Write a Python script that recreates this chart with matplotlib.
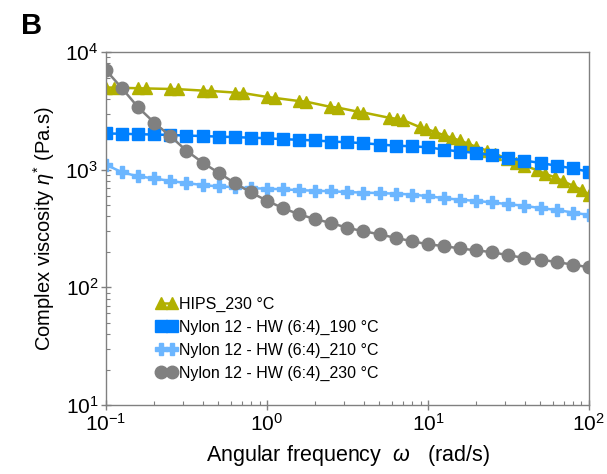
import math

import matplotlib
matplotlib.use("Agg")
import matplotlib.pyplot as plt
from matplotlib.ticker import LogLocator, FuncFormatter, NullFormatter

plt.rcParams['font.family'] = ['Liberation Sans', 'DejaVu Sans']
plt.rcParams['mathtext.fontset'] = 'custom'
plt.rcParams['mathtext.rm'] = 'Liberation Sans'
plt.rcParams['mathtext.it'] = 'Liberation Sans:italic'

# 10 points per decade, 0.1 -> 100 rad/s
freq = [0.1, 0.126, 0.158, 0.2, 0.251, 0.316, 0.398, 0.501, 0.631, 0.794,
        1.0, 1.26, 1.58, 2.0, 2.51, 3.16, 3.98, 5.01, 6.31, 7.94,
        10.0, 12.6, 15.8, 20.0, 25.1, 31.6, 39.8, 50.1, 63.1, 79.4, 100.0]

nylon_190 = [2030, 2020, 2000, 1990, 1970, 1950, 1930, 1910, 1890, 1870,
             1850, 1815, 1795, 1770, 1735, 1710, 1680, 1635, 1600, 1580,
             1550, 1480, 1425, 1390, 1320, 1250, 1195, 1140, 1080, 1025, 960]
nylon_210 = [1100, 950, 877, 843, 800, 770, 740, 720, 711, 695,
             690, 680, 670, 662, 655, 645, 638, 632, 625, 615,
             595, 573, 555, 543, 526, 509, 493, 471, 455, 432, 412]
nylon_230 = [7000, 4900, 3400, 2500, 1930, 1450, 1150, 940, 770, 640,
             545, 470, 418, 379, 352, 320, 300, 282, 263, 247,
             232, 224, 214, 206, 199, 187, 178, 172, 164, 156, 148]

hips_freq = [0.1, 0.112, 0.158, 0.178, 0.251, 0.282, 0.398, 0.447, 0.631, 0.708,
             1.0, 1.12, 1.58, 1.74, 2.45, 2.75, 3.63, 3.98, 5.75, 6.46, 7.0,
             8.91, 9.77, 11.0, 12.6, 14.1, 15.8, 17.8, 20.0, 23.4, 26.3,
             30.9, 35.5, 39.8, 47.9, 53.7, 61.7, 69.2, 79.4, 91.2, 100.0]
hips_230 = [4990, 4980, 4920, 4900, 4850, 4830, 4700, 4670, 4520, 4480,
            4150, 4070, 3830, 3790, 3430, 3370, 3120, 3060, 2760, 2700, 2640,
            2300, 2220, 2100, 1960, 1860, 1770, 1660, 1560, 1450, 1360,
            1240, 1150, 1080, 990, 920, 860, 800, 730, 670, 610]

fig = plt.figure(figsize=(6.07, 4.74), dpi=100)
ax = fig.add_axes([0.1746, 0.1456, 0.7955, 0.7447])

ax.plot(hips_freq, hips_230, color="#b1b000", marker="^", markersize=9,
        linewidth=1.8, label="HIPS_230 °C")
ax.plot(freq, nylon_190, color="#0080ff", marker="s", markersize=9,
        linewidth=1.8, label="Nylon 12 - HW (6:4)_190 °C")
ax.plot(freq, nylon_210, color="#6cb6ff", marker="P", markersize=9,
        linewidth=1.8, label="Nylon 12 - HW (6:4)_210 °C")
ax.plot(freq, nylon_230, color="#808080", marker="o", markersize=9,
        linewidth=1.8, label="Nylon 12 - HW (6:4)_230 °C")

ax.set_xscale("log"); ax.set_yscale("log")
ax.set_xlim(0.1, 100); ax.set_ylim(10, 1e4)

fmt = FuncFormatter(lambda v, p: r"$\mathregular{10^{%d}}$" % round(math.log10(v)))
ax.xaxis.set_major_locator(LogLocator(base=10, numticks=10))
ax.yaxis.set_major_locator(LogLocator(base=10, numticks=10))
ax.xaxis.set_major_formatter(fmt); ax.yaxis.set_major_formatter(fmt)
ax.xaxis.set_minor_formatter(NullFormatter()); ax.yaxis.set_minor_formatter(NullFormatter())
ax.tick_params(which="major", direction="inout", length=7, width=1, color="#808080",
               labelsize=15, pad=2)
ax.tick_params(which="minor", direction="in", length=3, width=0.8, color="#808080")
for s in ax.spines.values():
    s.set_color("#808080"); s.set_linewidth(1.0)

ax.set_xlabel(r"Angular frequency  $\omega$   (rad/s)", fontsize=15.5, labelpad=6)
ax.set_ylabel(r"Complex viscosity $\eta^{*}$ (Pa.s)", fontsize=14.5, labelpad=6)

ax.legend(loc="upper left", bbox_to_anchor=(0.09, 0.325), frameon=False, numpoints=2,
          fontsize=11.5, handlelength=1.3, handletextpad=0.15, labelspacing=0.5,
          borderaxespad=0)

fig.text(0.035, 0.975, "B", fontsize=21, fontweight="bold", va="top", ha="left")

fig.savefig("out.png", dpi=100)
